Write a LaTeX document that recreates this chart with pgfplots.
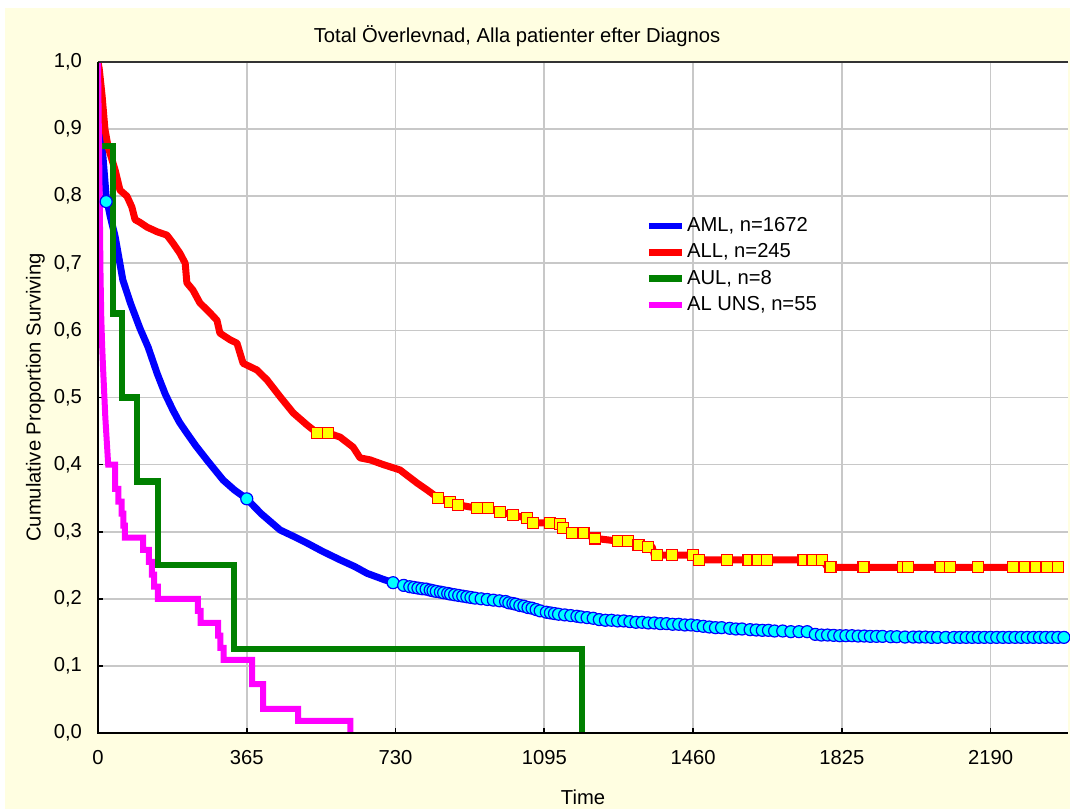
\documentclass[border=0pt]{standalone}
\usepackage{pgfplots}
\pgfplotsset{compat=1.18}
\usepackage{fontspec}
\setmainfont{Liberation Sans}
\definecolor{bgyellow}{RGB}{255,254,225}
\definecolor{gridgray}{RGB}{200,200,200}
\definecolor{kmgreen}{RGB}{0,128,0}
\definecolor{kmblue}{RGB}{0,0,255}
\definecolor{kmred}{RGB}{255,0,0}
\definecolor{kmmagenta}{RGB}{255,0,255}
\definecolor{kmcyan}{RGB}{0,255,255}
\definecolor{kmyellow}{RGB}{255,255,0}
\begin{document}
\begin{tikzpicture}[font=\fontsize{10.1}{12}\selectfont]
\fill[white] (-49pt,-38pt) rectangle (486pt,366.5pt);
\fill[bgyellow] (-46.5pt,-38pt) rectangle (486pt,362.5pt);
\begin{axis}[
  at={(0,0)}, anchor=south west,
  scale only axis, width=485pt, height=335.5pt,
  xmin=0, xmax=2380, ymin=0, ymax=1,
  axis background/.style={fill=white},
  axis line style={draw=none},
  xtick={0,365,730,1095,1460,1825,2190},
  ytick={0,0.1,0.2,0.3,0.4,0.5,0.6,0.7,0.8,0.9,1.0},
  xtick pos=bottom, ytick pos=left,
  tick align=inside, major tick length=2.5pt,
  tick style={black, line width=0.8pt},
  grid=major, major grid style={gridgray, line width=0.8pt},
  /pgf/number format/assume math mode=true,
  xticklabel style={/pgf/number format/1000 sep={}},
  yticklabel style={/pgf/number format/.cd, fixed, fixed zerofill, precision=1, use comma},
  xticklabel shift=5pt, yticklabel shift=4.5pt,
  every axis title shift=0pt,
  title={Total Överlevnad, Alla patienter efter Diagnos},
  title style={at={(axis description cs:0.432,1.0387)}, anchor=center, inner sep=0pt},
  xlabel={Time},
  xlabel style={at={(axis description cs:0.5,-0.0954)}, anchor=center, inner sep=0pt},
  ylabel={Cumulative Proportion Surviving},
  ylabel style={at={(axis description cs:-0.0645,0.5)}, anchor=center, inner sep=0pt},
  legend style={at={(0.564,0.772)}, anchor=north west, draw=none, fill=none,
    inner sep=0pt, row sep=2.6pt, nodes={inner sep=1pt, anchor=west}},
  legend cell align=left,
  legend image code/.code={\draw[#1, line width=3.3pt] (0pt,0pt) -- (16.5pt,0pt);},
]
% AML
\addplot[kmblue, line width=3.5pt, line join=round] coordinates {
(0,1.0)(2,0.95)(5,0.9)(12,0.86)(20,0.80)(30,0.77)(42,0.74)(61,0.675)(80,0.64)(103,0.603)(123,0.575)
(145,0.536)(165,0.505)(184,0.481)(200,0.463)(218,0.447)(240,0.428)(267,0.407)(287,0.392)(307,0.377)
(335,0.362)(365,0.349)(400,0.327)(447,0.3025)(480,0.293)(513,0.283)(550,0.271)(594,0.258)(630,0.248)
(660,0.238)(700,0.229)(730,0.223)(760,0.218)(800,0.215)(850,0.209)(900,0.203)(950,0.199)(1000,0.196)
(1050,0.188)(1094,0.181)(1150,0.175)(1200,0.171)(1254,0.168)(1350,0.164)(1451,0.161)(1530,0.157)
(1613,0.1535)(1700,0.151)(1755,0.151)(1765,0.146)(1880,0.1445)(2000,0.143)(2095,0.1425)(2380,0.1425)
};
\addlegendentry{AML, n=1672}
\addplot[forget plot, only marks, mark=*, mark size=3pt, mark options={fill=kmcyan, draw=kmblue, line width=0.6pt}] coordinates {
(20,0.792)(365,0.349)(724,0.224)
(750,0.220)(765,0.218)(775,0.217)(785,0.216)(795,0.215)(805,0.2145)(815,0.213)(822,0.212)(830,0.211)
(840,0.210)(848,0.209)(858,0.208)(865,0.207)(875,0.206)(885,0.205)(895,0.204)(905,0.203)(915,0.202)
(925,0.201)(940,0.200)(955,0.199)(970,0.198)(985,0.197)(1000,0.196)(1008,0.194)(1018,0.193)(1025,0.192)
(1035,0.190)(1045,0.189)(1055,0.187)(1065,0.186)(1075,0.184)(1085,0.182)(1100,0.180)(1110,0.179)
(1120,0.178)(1130,0.177)(1145,0.176)(1160,0.175)(1175,0.174)(1185,0.173)(1200,0.172)(1215,0.171)
(1230,0.169)(1245,0.168)(1260,0.168)(1275,0.167)(1290,0.167)(1305,0.166)(1320,0.165)(1335,0.165)
(1350,0.164)(1365,0.164)(1380,0.163)(1395,0.163)(1410,0.162)(1425,0.162)(1440,0.161)(1455,0.161)
(1470,0.160)(1485,0.159)(1500,0.158)(1515,0.157)(1530,0.157)(1550,0.156)(1565,0.155)(1580,0.155)
(1600,0.154)(1615,0.1535)(1630,0.153)(1645,0.153)(1660,0.152)(1680,0.152)(1700,0.151)(1720,0.151)
(1740,0.151)(1760,0.147)(1775,0.146)(1790,0.146)(1805,0.1455)(1820,0.145)(1835,0.145)(1850,0.145)
(1865,0.1445)(1880,0.1445)(1895,0.144)(1910,0.144)(1925,0.144)(1945,0.1435)(1960,0.1435)(1980,0.143)
(2000,0.143)(2015,0.143)(2030,0.143)(2045,0.1425)(2060,0.1425)(2080,0.1425)(2100,0.1425)(2115,0.1425)
(2130,0.1425)(2145,0.1425)(2160,0.1425)(2175,0.1425)(2190,0.1425)(2205,0.1425)(2220,0.1425)(2235,0.1425)
(2250,0.1425)(2265,0.1425)(2280,0.1425)(2295,0.1425)(2310,0.1425)(2325,0.1425)(2340,0.1425)(2355,0.1425)
(2370,0.1425)
};
% ALL
\addplot[kmred, line width=3.5pt, line join=round] coordinates {
(0,1.0)(3,0.99)(10,0.95)(17,0.9)(25,0.873)(42,0.839)(54,0.809)(71,0.80)(83,0.784)(91,0.765)(103,0.761)
(120,0.754)(145,0.747)(169,0.742)(184,0.730)(201,0.715)(214,0.700)(218,0.671)(233,0.660)(250,0.641)
(275,0.626)(292,0.615)(299,0.596)(324,0.586)(341,0.581)(356,0.551)(390,0.541)(415,0.526)(447,0.501)
(479,0.477)(513,0.459)(538,0.447)(565,0.447)(594,0.441)(626,0.426)(643,0.410)(668,0.407)(700,0.400)
(741,0.392)(783,0.3725)(808,0.362)(835,0.350)(864,0.344)(884,0.340)(930,0.335)(957,0.335)(987,0.329)
(1019,0.325)(1053,0.320)(1068,0.313)(1109,0.313)(1141,0.306)(1163,0.298)(1191,0.298)(1220,0.290)
(1276,0.286)(1301,0.286)(1323,0.280)(1350,0.277)(1360,0.277)(1365,0.265)(1460,0.265)(1470,0.258)
(1777,0.258)(1790,0.247)(2366,0.247)
};
\addlegendentry{ALL, n=245}
\addplot[forget plot, only marks, mark=square*, mark size=2.75pt, mark options={fill=kmyellow, draw=kmred, line width=0.6pt}] coordinates {
(538,0.447)(565,0.447)(835,0.350)(864,0.344)(884,0.340)(930,0.335)(957,0.335)(987,0.329)(1019,0.325)
(1053,0.320)(1068,0.313)(1109,0.313)(1134,0.312)(1141,0.306)(1163,0.298)(1191,0.298)(1220,0.290)
(1276,0.286)(1301,0.286)(1326,0.280)(1350,0.277)(1372,0.265)(1409,0.265)(1460,0.265)(1475,0.258)
(1544,0.258)(1596,0.258)(1618,0.258)(1642,0.258)(1731,0.258)(1753,0.258)(1777,0.258)(1797,0.247)
(1878,0.247)(1976,0.247)(1988,0.247)(2067,0.247)(2091,0.247)(2160,0.247)(2246,0.247)(2275,0.247)
(2300,0.247)(2329,0.247)(2356,0.247)
};
% AUL
\addplot[kmgreen, line width=3.2pt] coordinates {
(0,1.0)(0,0.875)(37,0.875)(37,0.625)(59,0.625)(59,0.5)(96,0.5)(96,0.375)(147,0.375)(147,0.25)
(334,0.25)(334,0.125)(1188,0.125)(1188,0)
};
\addlegendentry{AUL, n=8}
% AL UNS
\addplot[kmmagenta, line width=3pt] coordinates {
(0,1.0)(1,0.95)(2,0.9)(3,0.85)(4,0.8)(5,0.75)(6,0.69)(8,0.62)(10,0.58)(12,0.55)(15,0.51)(18,0.47)
(21,0.44)(25,0.40)(42,0.40)(42,0.364)(50,0.364)(50,0.345)(58,0.345)(58,0.327)(62,0.327)(62,0.309)
(66,0.309)(66,0.291)(111,0.291)(111,0.273)(125,0.273)(125,0.255)(132,0.255)(132,0.236)(138,0.236)
(138,0.218)(147,0.218)(147,0.2)(245,0.2)(245,0.182)(252,0.182)(252,0.164)(295,0.164)(295,0.145)
(300,0.145)(300,0.127)(308,0.127)(308,0.109)(378,0.109)(378,0.073)(405,0.073)(405,0.036)(491,0.036)
(491,0.018)(619,0.018)(619,0)
};
\addlegendentry{AL UNS, n=55}
\end{axis}
\draw[black!80, line width=1pt] (485pt,335.5pt) -- (0pt,335.5pt);
\draw[black, line width=1pt] (0pt,335.5pt) -- (0pt,0pt) -- (485pt,0pt);
\end{tikzpicture}
\end{document}
